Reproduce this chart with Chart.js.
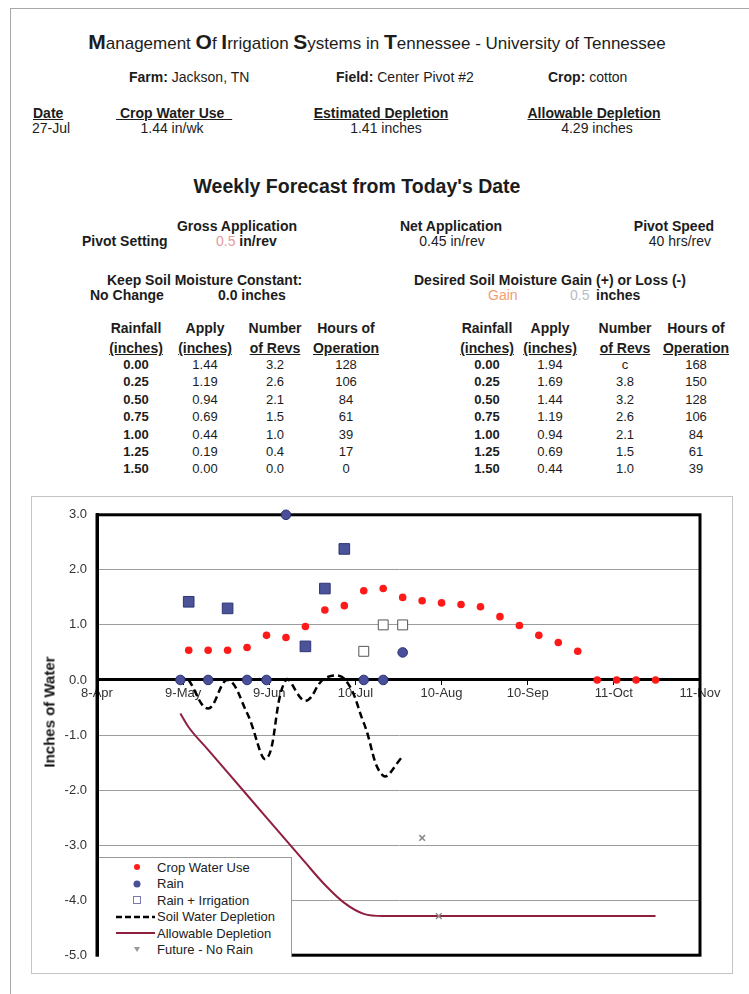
<!DOCTYPE html>
<html><head><meta charset="utf-8">
<script src="https://cdn.jsdelivr.net/npm/chart.js@4.4.0/dist/chart.umd.min.js"></script>
<style>
html,body{margin:0;padding:0;background:#fff;}
body{width:749px;height:994px;position:relative;overflow:hidden;font-family:"Liberation Sans",Arial,sans-serif;color:#1c1c1c;}
.t{position:absolute;white-space:nowrap;font-size:14px;line-height:16px;}
.d{font-size:13px;}
.b{font-weight:bold;}
.c{transform:translateX(-50%);}
.r{transform:translateX(-100%);}
.u{text-decoration:underline;}
#frame{position:absolute;left:10px;top:8px;width:745px;height:995px;border-left:1px solid #a8a8a8;border-top:1px solid #a8a8a8;}
#chartborder{position:absolute;left:31px;top:496px;width:700px;height:476px;border:1px solid #c4c4c4;}
#chartwrap{position:absolute;left:32px;top:497px;width:700px;height:476px;}
#ytitle{position:absolute;left:49px;top:712px;transform:translate(-50%,-50%) rotate(-90deg);font-weight:bold;font-size:15px;white-space:nowrap;color:#111;}
#legend{position:absolute;left:99px;top:857px;width:193px;height:100px;background:#fff;border-top:1px solid #999;border-right:1px solid #999;box-sizing:border-box;font-size:13px;color:#222;}
.li{position:absolute;left:0;height:15px;line-height:15px;white-space:nowrap;}
.li svg{position:absolute;left:16px;top:1.5px;}
.li span{position:absolute;left:58px;top:0;}
.big{font-size:21px;font-weight:bold;}
</style></head>
<body>
<div id="frame"></div>

<div class="t c" style="left:377px;top:31px;font-size:17px;line-height:22px;"><span class="big">M</span>anagement <span class="big">O</span>f <span class="big">I</span>rrigation <span class="big">S</span>ystems in <span class="big">T</span>ennessee - University of Tennessee</div>

<div class="t" style="left:129px;top:69px;"><b>Farm:</b> Jackson, TN</div>
<div class="t" style="left:336px;top:69px;"><b>Field:</b> Center Pivot #2</div>
<div class="t" style="left:548px;top:69px;"><b>Crop:</b> cotton</div>

<div class="t b u" style="left:33px;top:105px;">Date</div>
<div class="t b u" style="left:116px;top:105px;">&nbsp;Crop Water Use&nbsp;&nbsp;</div>
<div class="t b u c" style="left:381px;top:105px;">Estimated Depletion</div>
<div class="t b u c" style="left:594px;top:105px;">Allowable Depletion</div>
<div class="t" style="left:32px;top:120px;">27-Jul</div>
<div class="t c" style="left:172px;top:120px;">1.44 in/wk</div>
<div class="t c" style="left:386px;top:120px;">1.41 inches</div>
<div class="t c" style="left:597px;top:120px;">4.29 inches</div>

<div class="t b c" style="left:357px;top:174px;font-size:19.5px;line-height:24px;">Weekly Forecast from Today's Date</div>

<div class="t b c" style="left:237px;top:218px;">Gross Application</div>
<div class="t b c" style="left:451px;top:218px;">Net Application</div>
<div class="t b r" style="left:714px;top:218px;">Pivot Speed</div>
<div class="t b" style="left:82px;top:233px;">Pivot Setting</div>
<div class="t" style="left:216px;top:233px;"><span style="color:#e59a9a;">0.5</span> <b>in/rev</b></div>
<div class="t c" style="left:452px;top:233px;">0.45 in/rev</div>
<div class="t r" style="left:711px;top:233px;">40 hrs/rev</div>

<div class="t b" style="left:107px;top:272px;">Keep Soil Moisture Constant:</div>
<div class="t b" style="left:414px;top:272px;">Desired Soil Moisture Gain (+) or Loss (-)</div>
<div class="t b" style="left:90px;top:287px;">No Change</div>
<div class="t b" style="left:218px;top:287px;">0.0 inches</div>
<div class="t" style="left:488px;top:287px;color:#f0a070;">Gain</div>
<div class="t" style="left:570px;top:287px;color:#b8bcc8;">0.5</div>
<div class="t b" style="left:596px;top:287px;">inches</div>

<div id="tables"></div>

<div id="chartborder"></div>
<div id="chartwrap"><canvas id="c"></canvas></div>
<div id="ytitle">Inches of Water</div>
<div id="legend"></div>

<script>
// ---------- table data ----------
const tableHeader1 = ['Rainfall','Apply','Number','Hours of'];
const tableHeader2 = ['(inches)','(inches)','of Revs','Operation'];
const rainfallLevels = ['0.00','0.25','0.50','0.75','1.00','1.25','1.50'];
const keepApply = ['1.44','1.19','0.94','0.69','0.44','0.19','0.00'];
const keepRevs  = ['3.2','2.6','2.1','1.5','1.0','0.4','0.0'];
const keepHours = ['128','106','84','61','39','17','0'];
const gainApply = ['1.94','1.69','1.44','1.19','0.94','0.69','0.44'];
const gainRevs  = ['c','3.8','3.2','2.6','2.1','1.5','1.0'];
const gainHours = ['168','150','128','106','84','61','39'];

// ---------- chart data ----------
const tickDays   = [0, 31, 62, 93, 124, 155, 186, 217];
const tickLabels = ['8-Apr','9-May','9-Jun','10-Jul','10-Aug','10-Sep','11-Oct','11-Nov'];

const cropDays = [33,40,47,54,61,68,75,82,89,96,103,110,117,124,131,138,145,152,159,166,173,180,187,194,201];
const cropUse  = [0.54,0.54,0.54,0.59,0.81,0.77,0.97,1.27,1.35,1.62,1.66,1.50,1.44,1.40,1.37,1.33,1.15,0.99,0.81,0.68,0.52,0,0,0,0];

const rainDays = [30,40,54,61,68,96,103,110];
const rain     = [0,0,0,0,3.0,0,0,0.5];

const rainIrrPastDays = [33,47,75,82,89];
const rainIrrPast     = [1.42,1.30,0.61,1.66,2.38];

const rainIrrDays = [96,103,110];
const rainIrr     = [0.52,1.0,1.0];

const soilDays      = [33,40,47,54,61,68,75,82,89,96,103,110];
const soilDepletion = [0,-0.52,0,-0.6,-1.43,0,-0.38,0.03,0.02,-0.78,-1.74,-1.39];

const allowDays  = [30,33,40,47,54,61,68,75,82,89,96,103,110,117,124,131,138,145,152,159,166,173,180,187,194,201];
const allowable  = [-0.61,-0.86,-1.27,-1.68,-2.09,-2.50,-2.91,-3.32,-3.72,-4.05,-4.25,-4.29,-4.29,-4.29,-4.29,-4.29,-4.29,-4.29,-4.29,-4.29,-4.29,-4.29,-4.29,-4.29,-4.29,-4.29];

const futureDays   = [117,123];
const futureNoRain = [-2.87,-4.29];

// ---------- build tables ----------
(function(){
  const host = document.getElementById('tables');
  const rowY = [365,382,400,417,435,452,469];
  function col(x, texts, bold){
    texts.forEach((s,i)=>{
      const d=document.createElement('div');
      d.className='t d c'+(bold?' b':'');
      d.style.left=x+'px'; d.style.top=(rowY[i]-8)+'px';
      d.textContent=s; host.appendChild(d);
    });
  }
  function header(xs){
    xs.forEach((x,i)=>{
      const a=document.createElement('div'); a.className='t b c'; a.style.left=x+'px'; a.style.top='320px'; a.textContent=tableHeader1[i]; host.appendChild(a);
      const b=document.createElement('div'); b.className='t b c u'; b.style.left=x+'px'; b.style.top='340px'; b.textContent=tableHeader2[i]; host.appendChild(b);
    });
  }
  const L=[136,205,275,346], R=[487,550,625,696];
  header(L); header(R);
  col(L[0], rainfallLevels, true); col(L[1], keepApply); col(L[2], keepRevs); col(L[3], keepHours);
  col(R[0], rainfallLevels, true); col(R[1], gainApply); col(R[2], gainRevs); col(R[3], gainHours);
})();

function pts(xs, ys){ return xs.map((x,i)=>({x:x, y:ys[i]})); }

// ---------- legend ----------
const legendItems = [
  {label:'Crop Water Use', svg:'<circle cx="22" cy="6" r="3" fill="#ff1a1a"/>'},
  {label:'Rain', svg:'<circle cx="22" cy="6" r="3.5" fill="#4a4f9a"/>'},
  {label:'Rain + Irrigation', svg:'<rect x="18.5" y="2.5" width="7" height="7" fill="#fff" stroke="#7a7ab0" stroke-width="1"/>'},
  {label:'Soil Water Depletion', svg:'<line x1="1" y1="6" x2="40" y2="6" stroke="#000" stroke-width="2.5" stroke-dasharray="6,3"/>'},
  {label:'Allowable Depletion', svg:'<line x1="1" y1="6" x2="40" y2="6" stroke="#8e1f3e" stroke-width="2"/>'},
  {label:'Future - No Rain', svg:'<path d="M19 3 L25 3 L22 8 Z" fill="#999"/>'}
];
(function(){
  const lg=document.getElementById('legend');
  const ys=[1.5,18,34.5,51,67.5,84];
  legendItems.forEach((it,i)=>{
    const d=document.createElement('div'); d.className='li'; d.style.top=ys[i]+'px';
    d.innerHTML='<svg width="42" height="12" viewBox="0 0 42 12">'+it.svg+'</svg><span>'+it.label+'</span>';
    lg.appendChild(d);
  });
})();

// ---------- chart ----------
const plotFrame = {
  id:'plotFrame',
  beforeDatasetsDraw(chart){
    const a=chart.chartArea, ctx=chart.ctx;
    ctx.save(); ctx.strokeStyle='#000'; ctx.lineWidth=3;
    ctx.strokeRect(a.left, a.top, a.right-a.left, a.bottom-a.top);
    ctx.restore();
  }
};

new Chart(document.getElementById('c'), {
  type:'scatter',
  data:{datasets:[
    {label:'Crop Water Use', data:pts(cropDays,cropUse), pointStyle:'circle', pointRadius:3.8,
     backgroundColor:'#ff1a1a', borderColor:'#ff1a1a', borderWidth:0, clip:false, order:1},
    {label:'Rain', data:pts(rainDays,rain), pointStyle:'circle', pointRadius:4.8,
     backgroundColor:'#4a4f9a', borderColor:'#2c3070', borderWidth:1, clip:false, order:2},
    {label:'Rain + Irrigation (past)', data:pts(rainIrrPastDays,rainIrrPast), pointStyle:'rect', pointRadius:7.5,
     backgroundColor:'#4b5399', borderColor:'#2f3575', borderWidth:1, clip:false, order:3},
    {label:'Rain + Irrigation', data:pts(rainIrrDays,rainIrr), pointStyle:'rect', pointRadius:7,
     backgroundColor:'#ffffff', borderColor:'#555', borderWidth:1, clip:false, order:4},
    {label:'Soil Water Depletion', data:pts(soilDays,soilDepletion), showLine:true, pointRadius:0,
     borderColor:'#000', borderWidth:2.5, borderDash:[7,4], tension:0.4, fill:false, order:5},
    {label:'Allowable Depletion', data:pts(allowDays,allowable), showLine:true, pointRadius:0,
     borderColor:'#8e1f3e', borderWidth:2, cubicInterpolationMode:'monotone', fill:false, order:6},
    {label:'Future - No Rain', data:pts(futureDays,futureNoRain), pointStyle:'crossRot', pointRadius:4,
     borderColor:'#888', borderWidth:1.5, clip:false, order:0}
  ]},
  options:{
    responsive:true, maintainAspectRatio:false, animation:false,
    layout:{padding:{left:0,right:32,top:17,bottom:15}},
    plugins:{legend:{display:false}, tooltip:{enabled:false}},
    scales:{
      x:{type:'linear', min:0, max:217, position:{y:0},
        afterBuildTicks(s){ s.ticks = tickDays.map(v=>({value:v})); },
        ticks:{autoSkip:false, maxRotation:0, padding:2, color:'#333', font:{family:'"Liberation Sans", Arial', size:13},
          callback(v,i){ return tickLabels[i]; }},
        grid:{drawOnChartArea:false, drawTicks:true, tickLength:4, color:'#000', lineWidth:1},
        border:{display:true, color:'#000', width:3}
      },
      y:{type:'linear', min:-5, max:3,
        afterFit(s){ s.width = 65; },
        ticks:{stepSize:1, padding:10, color:'#333', font:{family:'"Liberation Sans", Arial', size:13},
          callback(v){ return Number(v).toFixed(1); }},
        grid:{drawTicks:false,
          color(ctx){ return ctx.tick && ctx.tick.value===0 ? '#000' : '#9c9c9c'; },
          lineWidth(ctx){ return ctx.tick && ctx.tick.value===0 ? 3 : 1; }},
        border:{display:true, color:'#000', width:3}
      }
    }
  },
  plugins:[plotFrame]
});
</script>
</body></html>
